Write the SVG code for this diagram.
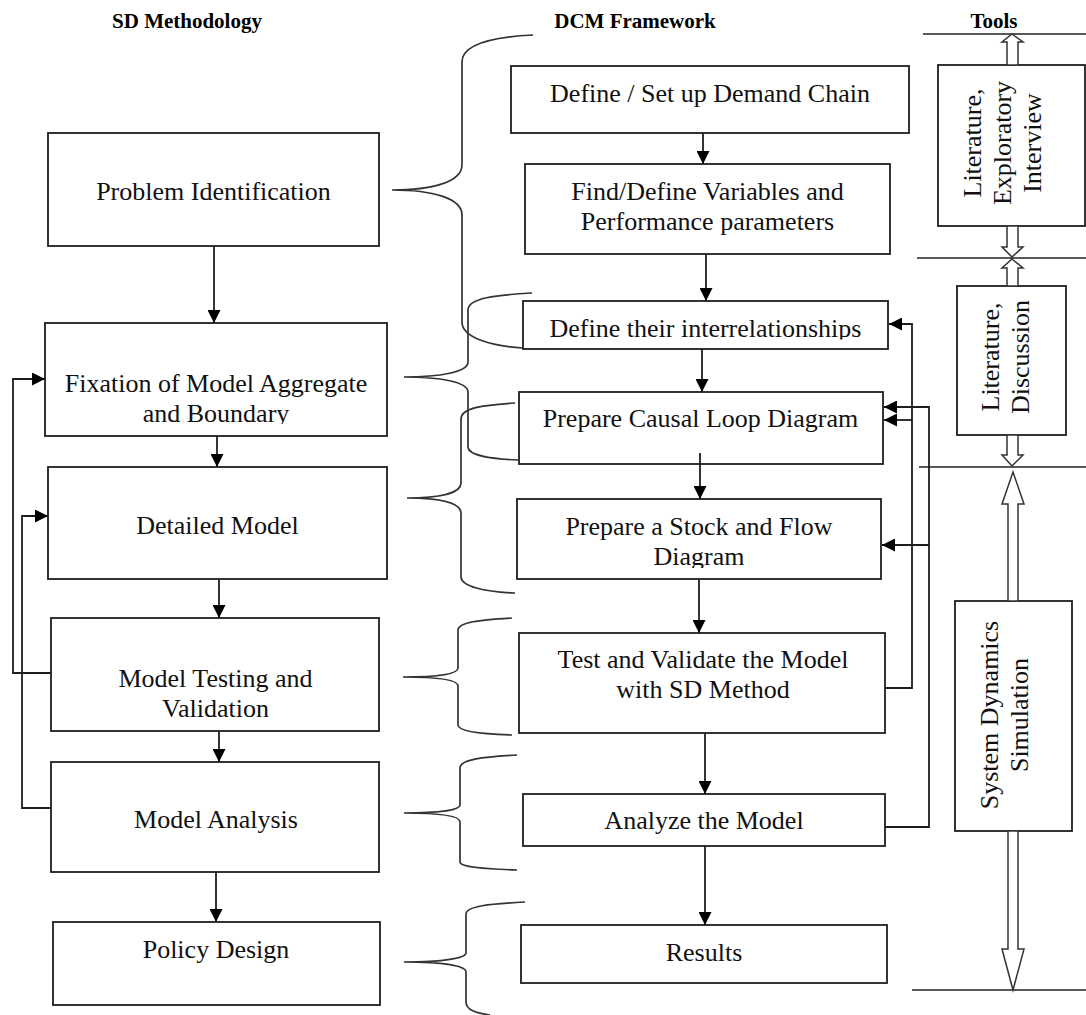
<svg xmlns="http://www.w3.org/2000/svg" width="1086" height="1015" viewBox="0 0 1086 1015">
<defs>
<style>
.box{fill:#fff;stroke:#1e1e1e;stroke-width:1.8}
.t{font-family:"Liberation Serif","Times New Roman",serif;font-size:26px;fill:#111;text-anchor:middle}
.h{font-family:"Liberation Serif","Times New Roman",serif;font-weight:bold;font-size:21px;fill:#000;text-anchor:middle}
.ln{fill:none;stroke:#1e1e1e;stroke-width:1.8}
.br{fill:none;stroke:#333;stroke-width:1.7}
.ha{fill:#fff;stroke:#333;stroke-width:1.5}
.sep{fill:none;stroke:#222;stroke-width:1.6}
</style>
<marker id="ah" viewBox="0 0 10 10" refX="10" refY="5" markerWidth="14" markerHeight="13" markerUnits="userSpaceOnUse" orient="auto">
<path d="M0,0 L10,5 L0,10 z" fill="#000"/>
</marker>
<clipPath id="cInter"><rect x="520" y="300" width="370" height="39.5"/></clipPath>
<clipPath id="cFix"><rect x="45" y="323" width="342" height="101"/></clipPath>
<clipPath id="cStock"><rect x="517" y="499" width="364" height="69"/></clipPath>
</defs>
<rect width="1086" height="1015" fill="#fff"/>

<g id="headers">
<text class="h" x="187" y="28">SD Methodology</text>
<text class="h" x="635" y="28">DCM Framework</text>
<text class="h" x="994" y="28">Tools</text>
</g>

<g id="sd-problem-identification"><rect class="box" x="48" y="133" width="331" height="113"/><text class="t" x="213.5" y="200">Problem Identification</text></g>
<g id="sd-fixation"><rect class="box" x="45" y="323" width="342" height="113"/><g clip-path="url(#cFix)"><text class="t" x="216" y="392">Fixation of Model Aggregate</text><text class="t" x="216" y="422">and Boundary</text></g></g>
<g id="sd-detailed"><rect class="box" x="48" y="467" width="339" height="112"/><text class="t" x="217.5" y="534">Detailed Model</text></g>
<g id="sd-testing"><rect class="box" x="51" y="618" width="328" height="113"/><text class="t" x="215.5" y="687">Model Testing and</text><text class="t" x="215.5" y="717">Validation</text></g>
<g id="sd-analysis"><rect class="box" x="51" y="762" width="328" height="110"/><text class="t" x="216" y="828">Model Analysis</text></g>
<g id="sd-policy"><rect class="box" x="53" y="922" width="327" height="83"/><text class="t" x="216" y="958">Policy Design</text></g>

<g id="dcm-define-chain"><rect class="box" x="511" y="66" width="398" height="67"/><text class="t" x="710" y="102">Define / Set up Demand Chain</text></g>
<g id="dcm-variables"><rect class="box" x="525" y="164" width="365" height="90"/><text class="t" x="707.5" y="200">Find/Define Variables and</text><text class="t" x="707.5" y="230">Performance parameters</text></g>
<g id="dcm-interrel"><rect class="box" x="523" y="301" width="365" height="48"/><text class="t" x="705.5" y="337" clip-path="url(#cInter)">Define their interrelationships</text></g>
<g id="dcm-causal"><rect class="box" x="519" y="392" width="364" height="72"/><text class="t" x="700.5" y="427">Prepare Causal Loop Diagram</text></g>
<g id="dcm-stock"><rect class="box" x="517" y="499" width="364" height="80"/><g clip-path="url(#cStock)"><text class="t" x="699" y="535">Prepare a Stock and Flow</text><text class="t" x="699" y="565">Diagram</text></g></g>
<g id="dcm-test"><rect class="box" x="519" y="633" width="366" height="100"/><text class="t" x="703" y="668">Test and Validate the Model</text><text class="t" x="703" y="698">with SD Method</text></g>
<g id="dcm-analyze"><rect class="box" x="523" y="794" width="362" height="52"/><text class="t" x="704" y="829">Analyze the Model</text></g>
<g id="dcm-results"><rect class="box" x="521" y="925" width="366" height="58"/><text class="t" x="704" y="961">Results</text></g>

<g id="tool-literature-interview"><rect class="box" x="938" y="65" width="147" height="161"/>
<text class="t" transform="translate(1011.5,143) rotate(-90)"><tspan x="0" y="-30.5">Literature,</tspan><tspan x="0" y="-0.5">Exploratory</tspan><tspan x="0" y="29.5">Interview</tspan></text></g>
<g id="tool-literature-discussion"><rect class="box" x="957" y="286" width="109" height="149"/>
<text class="t" transform="translate(1011.5,357) rotate(-90)"><tspan x="0" y="-12.5">Literature,</tspan><tspan x="0" y="17.5">Discussion</tspan></text></g>
<g id="tool-sd-simulation"><rect class="box" x="955" y="601" width="117" height="230"/>
<text class="t" transform="translate(1013.5,715) rotate(-90)"><tspan x="0" y="-15.5">System Dynamics</tspan><tspan x="0" y="14.5">Simulation</tspan></text></g>

<g id="braces">
<path class="br" d="M533,35 C492,37 462,44 462,62 L462,165 C462,182 432,190 392,190 C432,190 462,198 462,215 L462,322 C462,338 492,346 523,348"/>
<path class="br" d="M532,293 C496,295 468,298 468,310 L468,362 C468,372 440,377 404,377 C440,377 468,382 468,392 L468,447 C468,455 490,459 518,460"/>
<path class="br" d="M515,403 C482,405 461,408 461,419 L461,483 C461,493 440,498 407,498 C440,498 461,503 461,513 L461,577 C461,586 484,592 515,593"/>
<path class="br" d="M512,618 C480,620 458,622 458,630 L458,668 C458,674 438,677 403,677 C438,677 458,680 458,686 L458,725 C458,731 480,734 512,735"/>
<path class="br" d="M517,755 C484,757 460,759 460,768 L460,805 C460,810 440,813 404,813 C440,813 460,816 460,822 L460,862 C460,867 484,869 517,870"/>
<path class="br" d="M525,902 C490,904 466,906 466,914 L466,953 C466,958 444,962 404,962 C444,962 466,966 466,972 L466,1002 C466,1010 476,1013 490,1015"/>
</g>

<g id="connectors">
<path class="ln" d="M214,246 L214,323" marker-end="url(#ah)"/>
<path class="ln" d="M217,436 L217,467" marker-end="url(#ah)"/>
<path class="ln" d="M219,579 L219,618" marker-end="url(#ah)"/>
<path class="ln" d="M219,731 L219,762" marker-end="url(#ah)"/>
<path class="ln" d="M216,872 L216,922" marker-end="url(#ah)"/>

<path class="ln" d="M703,133 L703,164" marker-end="url(#ah)"/>
<path class="ln" d="M706,254 L706,301" marker-end="url(#ah)"/>
<path class="ln" d="M702,349 L702,392" marker-end="url(#ah)"/>
<path class="ln" d="M700,453 L700,499" marker-end="url(#ah)"/>
<path class="ln" d="M699,579 L699,633" marker-end="url(#ah)"/>
<path class="ln" d="M705,733 L705,794" marker-end="url(#ah)"/>
<path class="ln" d="M705,846 L705,925" marker-end="url(#ah)"/>

<path class="ln" d="M51,673 L13,673 L13,379 L45,379" marker-end="url(#ah)"/>
<path class="ln" d="M51,808 L22,808 L22,516 L48,516" marker-end="url(#ah)"/>

<path class="ln" d="M885,688 L912,688 L912,324 L889,324" marker-end="url(#ah)"/>
<path class="ln" d="M912,420 L884,420" marker-end="url(#ah)"/>
<path class="ln" d="M885,827 L929,827 L929,407 L884,407" marker-end="url(#ah)"/>
<path class="ln" d="M929,545 L882,545" marker-end="url(#ah)"/>

<path class="sep" d="M923,34 H1086"/>
<path class="sep" d="M917,258 H1086"/>
<path class="sep" d="M919,467 H1086"/>
<path class="sep" d="M912,990 H1086"/>

<path class="ha" d="M1012,34 L1023,42 L1018,42 L1018,65 L1007,65 L1007,42 L1002,42 Z"/>
<path class="ha" d="M1007,226 L1018,226 L1018,247 L1023,247 L1012,257 L1002,247 L1007,247 Z"/>
<path class="ha" d="M1012,259 L1023,268 L1018,268 L1018,286 L1007,286 L1007,268 L1002,268 Z"/>
<path class="ha" d="M1007,435 L1018,435 L1018,455 L1023,455 L1012,466 L1002,455 L1007,455 Z"/>
<path class="ha" d="M1013,472 L1024,504 L1018,504 L1018,601 L1008,601 L1008,504 L1002,504 Z"/>
<path class="ha" d="M1008,831 L1018,831 L1018,949 L1024,949 L1013,990 L1002,949 L1008,949 Z"/>
</g>
</svg>
